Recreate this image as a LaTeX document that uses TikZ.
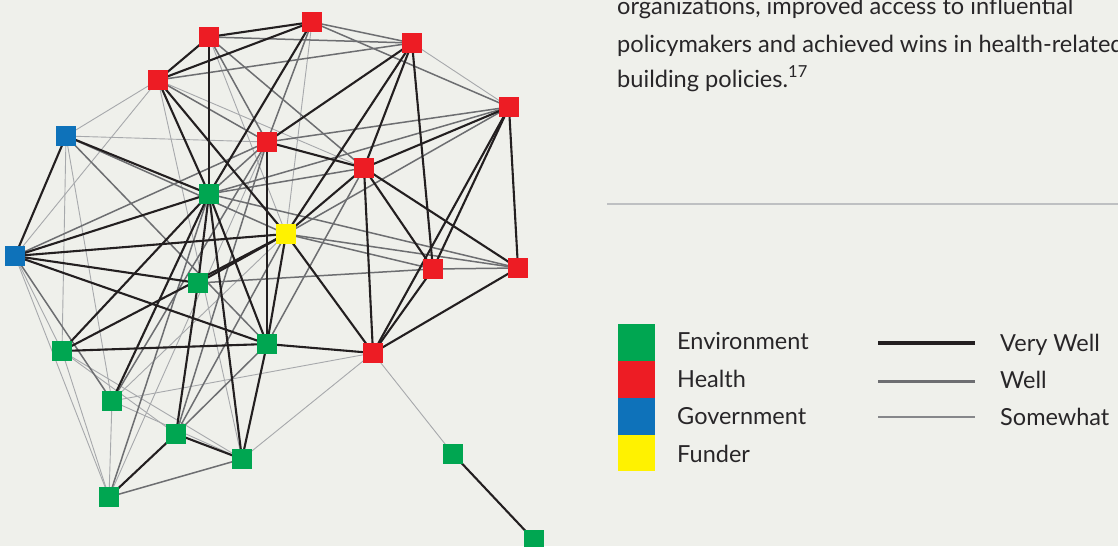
\documentclass[tikz,border=0pt]{standalone}
\usepackage{fontspec}
\setmainfont{Lato}
\definecolor{bgc}{RGB}{239,240,235}
\definecolor{envg}{RGB}{0,166,81}
\definecolor{healr}{RGB}{237,28,36}
\definecolor{govb}{RGB}{14,114,186}
\definecolor{fundy}{RGB}{255,242,0}
\definecolor{vwc}{RGB}{35,31,32}
\definecolor{wc}{RGB}{109,110,113}
\definecolor{swc}{RGB}{167,169,172}
\definecolor{txt}{RGB}{40,38,40}
\definecolor{sepc}{RGB}{190,192,194}
\pgfdeclarelayer{bgl}
\pgfdeclarelayer{edgel}
\pgfsetlayers{bgl,edgel,main}
\begin{document}
\begin{tikzpicture}[x=1pt,y=-1pt,
  nd/.style={minimum size=20pt,inner sep=0pt,draw=none},
  env/.style={nd,fill=envg},
  hea/.style={nd,fill=healr},
  gov/.style={nd,fill=govb},
  fun/.style={nd,fill=fundy},
  vw/.style={draw=vwc,line width=2.1pt},
  wl/.style={draw=wc,line width=1.5pt},
  sw/.style={draw=swc,line width=0.9pt},
  lbl/.style={anchor=base west,inner sep=0pt,text=txt,font=\fontsize{23.5}{28}\selectfont},
  body/.style={anchor=base west,inner sep=0pt,text=txt,font=\fontsize{23.6}{28}\selectfont}]
\useasboundingbox (0,0) rectangle (1118,546);
\begin{pgfonlayer}{bgl}
\fill[bgc] (0,0) rectangle (1118,546);
\end{pgfonlayer}
\clip (0,0) rectangle (1118,546);
% nodes
\node[hea] (r1) at (209,37) {};
\node[hea] (r2) at (312,22) {};
\node[hea] (r3) at (412,43) {};
\node[hea] (r4) at (158,80) {};
\node[hea] (r5) at (509,107) {};
\node[hea] (r6) at (267,142) {};
\node[hea] (r7) at (364,168) {};
\node[hea] (r8) at (433,269) {};
\node[hea] (r9) at (518,268) {};
\node[hea] (r10) at (373,353) {};
\node[gov] (b1) at (66,136) {};
\node[gov] (b2) at (15,256) {};
\node[fun] (y) at (286,234) {};
\node[env] (g1) at (209,194) {};
\node[env] (g2) at (198,283) {};
\node[env] (g3) at (62,351) {};
\node[env] (g4) at (267,344) {};
\node[env] (g5) at (112,401) {};
\node[env] (g6) at (176,434) {};
\node[env] (g7) at (242,459) {};
\node[env] (g8) at (109,497) {};
\node[env] (g9) at (453,454) {};
\node[env] (g10) at (534,540) {};
\begin{pgfonlayer}{edgel}
\foreach \a/\b in {r3/r5,r4/b1,r4/b2,r4/r7,r4/g7,r1/y,r2/y,b1/r6,b1/g3,b1/g5,b2/g8,b2/g3,g3/g8,g5/g8,g5/r10,g5/y,g5/g7,g3/g7,g3/g6,g7/r10,r10/g9,g8/r6}
  \draw[sw] (\a.center) -- (\b.center);
\foreach \a/\b in {r1/r3,r1/r6,r1/r7,r2/r3,r2/r5,r2/r6,r3/r4,r4/r6,r5/r6,r5/g1,r5/y,b2/r6,b1/y,b1/g4,g4/r7,g1/r6,g2/r8,y/r8,y/r9,r8/r9,g1/r9,g1/r7,g5/r6,g6/y,g6/g4,g6/r6,g7/g8,g8/g1,b2/g5}
  \draw[wl] (\a.center) -- (\b.center);
\foreach \a/\b in {r1/r2,r1/r4,r1/g1,r2/r4,r2/g1,r3/r6,r3/y,r3/r7,r3/r8,r5/r7,r5/r8,r5/r10,r5/r9,r4/g1,r4/y,r6/g4,r6/r7,r7/r10,r7/r8,r7/r9,r7/y,r8/r10,r9/r10,y/r10,y/b2,y/g2,y/g3,y/g4,b1/g1,b1/b2,b2/g1,b2/g2,b2/g4,g1/g2,g1/g3,g1/g4,g1/g5,g1/g7,g3/g4,g4/g7,g4/r10,g6/g8,g6/g7,g6/g2,g9/g10}
  \draw[vw] (\a.center) -- (\b.center);
\end{pgfonlayer}
% separator
\draw[sepc,line width=2.5pt] (607,204) -- (1118,204);
% body text
\node[body] (t1) at (617,14) {organizations, improved access to influential};
\node[body] (t2) at (617,52) {policymakers and achieved wins in health-related};
\node[body] (t3) at (617,87) {building policies.\textsuperscript{17}};
% legend
\fill[envg] (618,324) rectangle (655,361);
\fill[healr] (618,361) rectangle (655,398);
\fill[govb] (618,398) rectangle (655,435);
\fill[fundy] (618,435) rectangle (655,471);
\node[lbl] (l1) at (677,349) {Environment};
\node[lbl] (l2) at (677,387) {Health};
\node[lbl] (l3) at (677,424) {Government};
\node[lbl] (l4) at (677,462) {Funder};
\coordinate (a1) at (878,343); \coordinate (a2) at (975,343);
\coordinate (b1l) at (878,381); \coordinate (b2l) at (975,381);
\coordinate (c1) at (878,417); \coordinate (c2) at (975,417);
\draw[vwc,line width=4pt] (a1) -- (a2);
\draw[wc,line width=3pt] (b1l) -- (b2l);
\draw[swc!80!black,line width=2pt] (c1) -- (c2);
\node[lbl] (k1) at (1000,351) {Very Well};
\node[lbl] (k2) at (1000,388) {Well};
\node[lbl] (k3) at (1000,425) {Somewhat};
\end{tikzpicture}
\end{document}
